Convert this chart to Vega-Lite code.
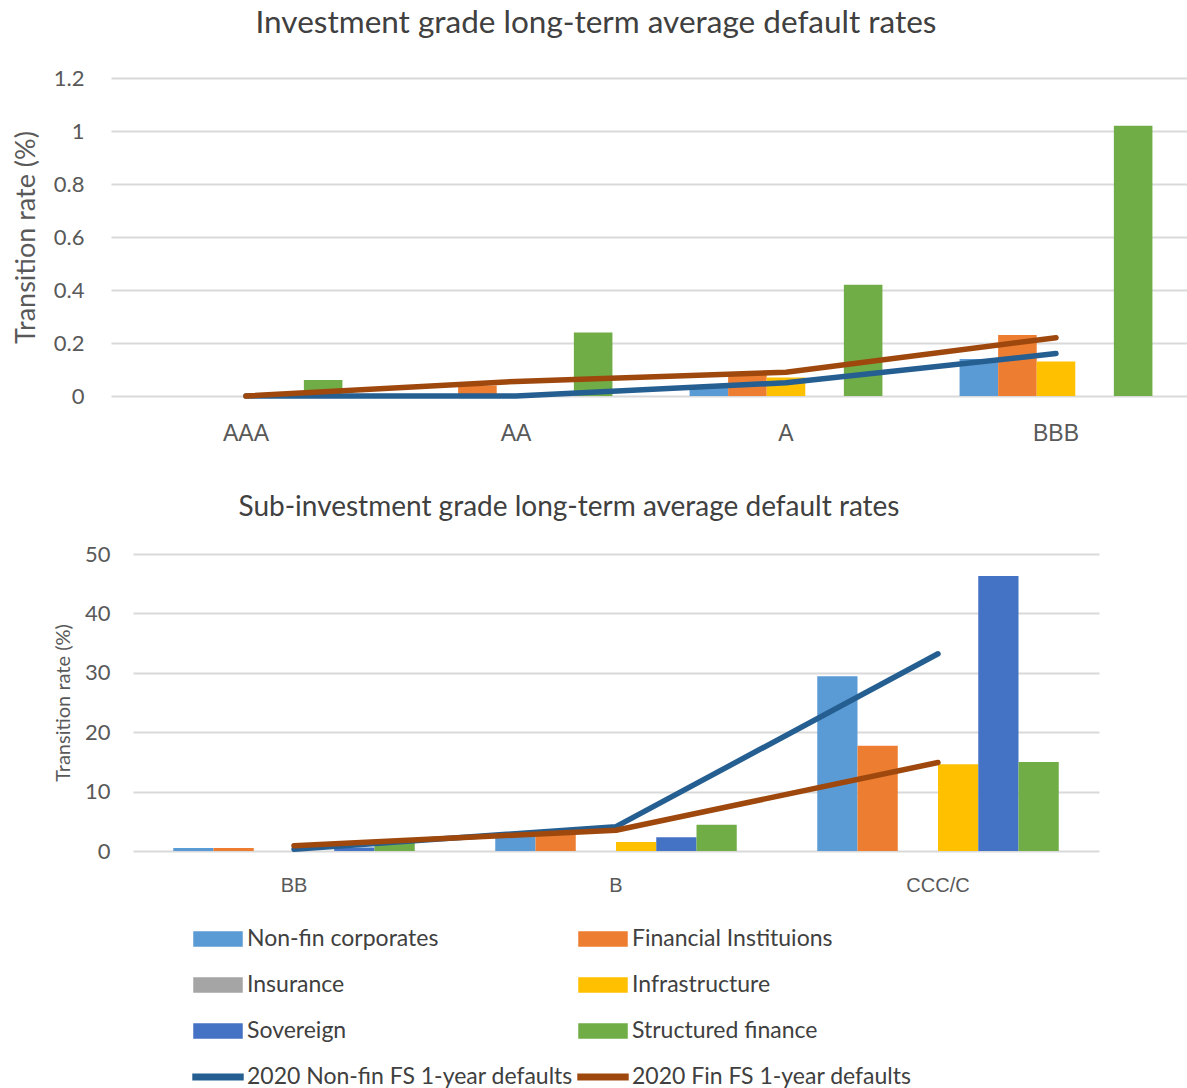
{
  "$schema": "https://vega.github.io/schema/vega-lite/v6.json",
  "background": "white",
  "padding": {"left": 12, "top": 7, "right": 0, "bottom": 0},
  "datasets": {
    "ig_bars": [
      {"rating": "AAA", "series": "Structured finance", "rate": 0.06},
      {"rating": "AA", "series": "Financial Instituions", "rate": 0.04},
      {"rating": "AA", "series": "Structured finance", "rate": 0.24},
      {"rating": "A", "series": "Non-fin corporates", "rate": 0.03},
      {"rating": "A", "series": "Financial Instituions", "rate": 0.08},
      {"rating": "A", "series": "Infrastructure", "rate": 0.07},
      {"rating": "A", "series": "Structured finance", "rate": 0.42},
      {"rating": "BBB", "series": "Non-fin corporates", "rate": 0.14},
      {"rating": "BBB", "series": "Financial Instituions", "rate": 0.23},
      {"rating": "BBB", "series": "Infrastructure", "rate": 0.13},
      {"rating": "BBB", "series": "Structured finance", "rate": 1.02}
    ],
    "ig_lines": [
      {"rating": "AAA", "series": "2020 Non-fin FS 1-year defaults", "rate": 0.0},
      {"rating": "AA", "series": "2020 Non-fin FS 1-year defaults", "rate": 0.0},
      {"rating": "A", "series": "2020 Non-fin FS 1-year defaults", "rate": 0.05},
      {"rating": "BBB", "series": "2020 Non-fin FS 1-year defaults", "rate": 0.16},
      {"rating": "AAA", "series": "2020 Fin FS 1-year defaults", "rate": 0.0},
      {"rating": "AA", "series": "2020 Fin FS 1-year defaults", "rate": 0.055},
      {"rating": "A", "series": "2020 Fin FS 1-year defaults", "rate": 0.09},
      {"rating": "BBB", "series": "2020 Fin FS 1-year defaults", "rate": 0.22}
    ],
    "sub_bars": [
      {"rating": "BB", "series": "Non-fin corporates", "rate": 0.5},
      {"rating": "BB", "series": "Financial Instituions", "rate": 0.5},
      {"rating": "BB", "series": "Sovereign", "rate": 0.6},
      {"rating": "BB", "series": "Structured finance", "rate": 1.4},
      {"rating": "B", "series": "Non-fin corporates", "rate": 2.5},
      {"rating": "B", "series": "Financial Instituions", "rate": 3.0},
      {"rating": "B", "series": "Infrastructure", "rate": 1.5},
      {"rating": "B", "series": "Sovereign", "rate": 2.3},
      {"rating": "B", "series": "Structured finance", "rate": 4.4},
      {"rating": "CCC/C", "series": "Non-fin corporates", "rate": 29.4},
      {"rating": "CCC/C", "series": "Financial Instituions", "rate": 17.7},
      {"rating": "CCC/C", "series": "Infrastructure", "rate": 14.6},
      {"rating": "CCC/C", "series": "Sovereign", "rate": 46.3},
      {"rating": "CCC/C", "series": "Structured finance", "rate": 15.0}
    ],
    "sub_lines": [
      {"rating": "BB", "series": "2020 Non-fin FS 1-year defaults", "rate": 0.3},
      {"rating": "B", "series": "2020 Non-fin FS 1-year defaults", "rate": 4.1},
      {"rating": "CCC/C", "series": "2020 Non-fin FS 1-year defaults", "rate": 33.2},
      {"rating": "BB", "series": "2020 Fin FS 1-year defaults", "rate": 0.9},
      {"rating": "B", "series": "2020 Fin FS 1-year defaults", "rate": 3.5},
      {"rating": "CCC/C", "series": "2020 Fin FS 1-year defaults", "rate": 14.9}
    ]
  },
  "config": {
    "font": "Lato",
    "view": {"stroke": null},
    "axis": {
      "domain": false,
      "ticks": false,
      "labelColor": "#595959",
      "titleColor": "#595959",
      "gridColor": "#D9D9D9",
      "gridWidth": 2,
      "labelFont": "Lato",
      "titleFont": "Lato",
      "titleFontWeight": "normal"
    },
    "title": {"font": "Lato", "fontWeight": "normal", "color": "#404040"}
  },
  "spacing": 158,
  "bounds": "flush",
  "resolve": {
    "scale": {"x": "independent", "y": "independent", "xOffset": "independent", "color": "shared"},
    "legend": {"color": "shared"}
  },
  "vconcat": [
    {
      "width": 1080,
      "height": 318,
      "title": {
        "text": "Investment grade long-term average default rates",
        "fontSize": 31.5,
        "dx": -55,
        "offset": 12,
        "baseline": "middle"
      },
      "layer": [
        {
          "data": {"name": "ig_bars"},
          "mark": {"type": "bar"},
          "encoding": {
            "x": {
              "field": "rating", "type": "nominal", "title": null,
              "sort": ["AAA", "AA", "A", "BBB"],
              "scale": {"paddingInner": 0, "paddingOuter": 0},
              "axis": {"labelAngle": 0, "labelFont": "Liberation Sans", "labelFontSize": 23, "labelPadding": 26, "grid": false}
            },
            "xOffset": {
              "field": "series", "type": "nominal",
              "scale": {
                "domain": ["Non-fin corporates", "Financial Instituions", "Infrastructure", "Sovereign", "Structured finance"],
                "paddingInner": 0, "paddingOuter": 1.1
              }
            },
            "y": {
              "field": "rate", "type": "quantitative",
              "scale": {"domain": [0, 1.2]},
              "axis": {
                "title": "Transition rate (%)", "titleFontSize": 27, "titleX": -85, "titleBaseline": "middle",
                "values": [0, 0.2, 0.4, 0.6, 0.8, 1, 1.2], "format": "~g",
                "labelFontSize": 22, "labelPadding": 27
              }
            },
            "color": {
              "field": "series", "type": "nominal",
              "scale": {
                "domain": ["Non-fin corporates", "Insurance", "Sovereign", "2020 Non-fin FS 1-year defaults", "Financial Instituions", "Infrastructure", "Structured finance", "2020 Fin FS 1-year defaults"],
                "range": ["#5B9BD5", "#A5A5A5", "#4472C4", "#255E91", "#ED7D31", "#FFC000", "#70AD47", "#9E480E"]
              },
              "legend": {
                "title": null,
                "orient": "none",
                "legendX": 82,
                "legendY": 836,
                "columns": 2,
                "columnPadding": 2,
                "rowPadding": 9,
                "padding": 0,
                "symbolType": "M-1,-0.29H1V0.29H-1Z",
                "symbolSize": 2304,
                "labelFont": "Lato",
                "labelFontSize": 23,
                "labelColor": "#404040",
                "labelOffset": 4,
                "labelLimit": 600,
                "encode": {
                  "symbols": {
                    "update": {
                      "shape": {"signal": "indexof(datum.value, '2020') === 0 ? 'M-1.04,-0.11H1.04V0.11H-1.04Z' : 'M-1,-0.29H1V0.29H-1Z'"}
                    }
                  }
                }
              }
            }
          }
        },
        {
          "data": {"name": "ig_lines"},
          "mark": {"type": "line", "strokeWidth": 5.5, "strokeCap": "round", "strokeJoin": "round"},
          "encoding": {
            "x": {"field": "rating", "type": "nominal", "sort": ["AAA", "AA", "A", "BBB"]},
            "y": {"field": "rate", "type": "quantitative"},
            "color": {"field": "series", "type": "nominal"}
          }
        }
      ]
    },
    {
      "width": 988,
      "height": 297,
      "title": {
        "text": "Sub-investment grade long-term average default rates",
        "fontSize": 28,
        "dx": -36,
        "offset": 7,
        "baseline": "middle"
      },
      "layer": [
        {
          "data": {"name": "sub_bars"},
          "mark": {"type": "bar"},
          "encoding": {
            "x": {
              "field": "rating", "type": "nominal", "title": null,
              "sort": ["BB", "B", "CCC/C"],
              "scale": {"paddingInner": 0, "paddingOuter": 0, "range": [22, 988]},
              "axis": {"labelAngle": 0, "labelFont": "Liberation Sans", "labelFontSize": 20, "labelPadding": 24, "grid": false}
            },
            "xOffset": {
              "field": "series", "type": "nominal",
              "scale": {
                "domain": ["Non-fin corporates", "Financial Instituions", "Insurance", "Infrastructure", "Sovereign", "Structured finance"],
                "paddingInner": 0, "paddingOuter": 1.1
              }
            },
            "y": {
              "field": "rate", "type": "quantitative",
              "scale": {"domain": [0, 50]},
              "axis": {
                "title": "Transition rate (%)", "titleFontSize": 20, "titleX": -70, "titleBaseline": "middle",
                "values": [0, 10, 20, 30, 40, 50],
                "labelFontSize": 22, "labelPadding": 23, "offset": -22
              }
            },
            "color": {"field": "series", "type": "nominal"}
          }
        },
        {
          "data": {"name": "sub_lines"},
          "mark": {"type": "line", "strokeWidth": 5.5, "strokeCap": "round", "strokeJoin": "round"},
          "encoding": {
            "x": {"field": "rating", "type": "nominal", "sort": ["BB", "B", "CCC/C"]},
            "y": {"field": "rate", "type": "quantitative"},
            "color": {"field": "series", "type": "nominal"}
          }
        }
      ]
    }
  ]
}
